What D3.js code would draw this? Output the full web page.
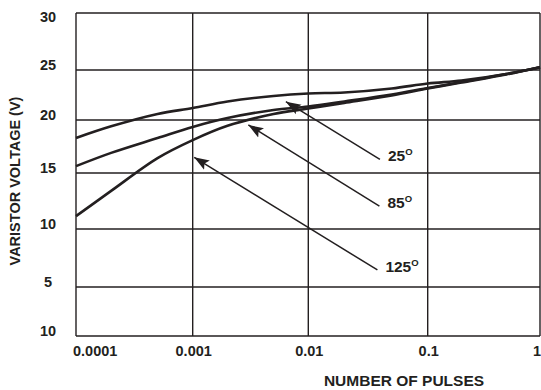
<!DOCTYPE html>
<html>
<head>
<meta charset="utf-8">
<script src="https://cdn.jsdelivr.net/npm/d3@7"></script>
<style>
body { margin: 0; background: #fff; }
svg { display: block; font-family: "Liberation Sans", Arial, sans-serif; font-weight: bold; }
</style>
</head>
<body>
<div id="main"></div>
<script>
// values
var pulses = [0.0001, 0.0002, 0.0005, 0.001, 0.002, 0.005, 0.01, 0.02, 0.05, 0.1, 0.2, 0.5, 1];
var volts25 = [18.3, 19.4, 20.6, 21.2, 21.85, 22.4, 22.65, 22.75, 23.15, 23.65, 23.95, 24.6, 25.25];
var volts85 = [15.65, 16.9, 18.3, 19.35, 20.2, 21.0, 21.35, 21.85, 22.55, 23.2, 23.8, 24.6, 25.25];
var volts125 = [11.15, 13.4, 16.4, 18.1, 19.45, 20.6, 21.15, 21.7, 22.45, 23.15, 23.75, 24.55, 25.25];

var xTicks = [0.0001, 0.001, 0.01, 0.1, 1];
var xTickLabels = ["0.0001", "0.001", "0.01", "0.1", "1"];
var yTicks = [0, 5, 10, 15, 20, 25, 30];
var yTickLabels = ["10", "5", "10", "15", "20", "25", "30"];

var curveLabels = ["25", "85", "125"];
var arrowTipX = [0.0064, 0.00303, 0.00103];
var arrowTipY = [21.83, 19.53, 16.48];
var arrowTailX = [0.0398, 0.0394, 0.0379];
var arrowTailY = [16.29, 12.05, 6.47];

var ink = "#231f20";
var W = 541, H = 390;
var plotL = 76, plotR = 540, plotT = 13, plotB = 336;

var svg = d3.select("#main").append("svg")
  .attr("width", W)
  .attr("height", H);

// decades are not quite even in the scan, so map log10 piecewise
var xs = d3.scaleLinear().domain([-4, -3, -2, -1, 0]).range([plotL, 192.7, 308.3, 427.7, plotR]);
var x = function(v) { return xs(Math.log10(v)); };
var y = d3.scaleLinear().domain(yTicks).range([plotB, 287, 229, 173, 120, 70, plotT]);

// grid
svg.append("g").selectAll("line").data(yTicks).join("line")
  .attr("x1", plotL).attr("x2", plotR)
  .attr("y1", function(d) { return y(d); }).attr("y2", function(d) { return y(d); })
  .attr("stroke", ink).attr("stroke-width", 1.4);

svg.append("g").selectAll("line").data(xTicks).join("line")
  .attr("x1", function(d) { return x(d); }).attr("x2", function(d) { return x(d); })
  .attr("y1", plotT).attr("y2", plotB)
  .attr("stroke", ink).attr("stroke-width", 1.4);

// tick labels
svg.append("g").selectAll("text").data(yTicks).join("text")
  .attr("x", 48)
  .attr("y", function(d) { return Math.max(y(d) - 5, 17); })
  .attr("text-anchor", "middle")
  .attr("dominant-baseline", "central")
  .attr("font-size", 14.5)
  .attr("fill", ink)
  .text(function(d, i) { return yTickLabels[i]; });

svg.append("g").selectAll("text").data(xTicks).join("text")
  .attr("x", function(d, i) {
    if (i == 0) return 73;
    if (i == xTicks.length - 1) return W;
    return x(d) + 1;
  })
  .attr("y", 351)
  .attr("text-anchor", function(d, i) { return i == 0 ? "start" : (i == xTicks.length - 1 ? "end" : "middle"); })
  .attr("dominant-baseline", "central")
  .attr("font-size", 14.5)
  .attr("fill", ink)
  .text(function(d, i) { return xTickLabels[i]; });

// axis titles
svg.append("text")
  .attr("transform", "translate(15,181) rotate(-90)")
  .attr("text-anchor", "middle")
  .attr("dominant-baseline", "central")
  .attr("font-size", 14.5)
  .attr("fill", ink)
  .text("VARISTOR VOLTAGE (V)");

svg.append("text")
  .attr("x", 404)
  .attr("y", 380)
  .attr("text-anchor", "middle")
  .attr("dominant-baseline", "central")
  .attr("font-size", 15.5)
  .attr("fill", ink)
  .text("NUMBER OF PULSES");

// curves
var line = d3.line()
  .x(function(d) { return x(d[0]); })
  .y(function(d) { return y(d[1]); })
  .curve(d3.curveCatmullRom.alpha(0.5));

[volts25, volts85, volts125].forEach(function(vals) {
  svg.append("path")
    .datum(d3.zip(pulses, vals))
    .attr("d", line)
    .attr("fill", "none")
    .attr("stroke", ink)
    .attr("stroke-width", 2.6);
});

// arrows + labels
svg.append("defs").append("marker")
  .attr("id", "head")
  .attr("markerUnits", "userSpaceOnUse")
  .attr("markerWidth", 16).attr("markerHeight", 12)
  .attr("viewBox", "0 -6 16 12")
  .attr("refX", 15).attr("refY", 0)
  .attr("orient", "auto")
  .append("path")
  .attr("d", "M0,-5.5L15,0L0,5.5L3,0Z")
  .attr("fill", ink);

curveLabels.forEach(function(lab, i) {
  svg.append("line")
    .attr("x1", x(arrowTailX[i])).attr("y1", y(arrowTailY[i]))
    .attr("x2", x(arrowTipX[i])).attr("y2", y(arrowTipY[i]))
    .attr("stroke", ink).attr("stroke-width", 1.5)
    .attr("marker-end", "url(#head)");

  var t = svg.append("text")
    .attr("x", x(arrowTailX[i]) + 8)
    .attr("y", y(arrowTailY[i]) + 2)
    .attr("font-size", 15.5)
    .attr("fill", ink);
  t.append("tspan").text(lab);
  t.append("tspan").attr("dy", -6).attr("font-size", 9.5).text("O");
});
</script>
</body>
</html>
